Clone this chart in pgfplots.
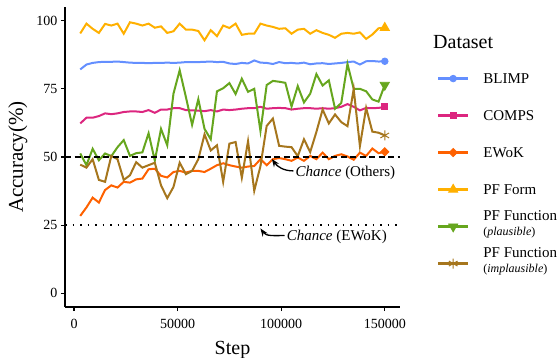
\documentclass[border=0pt]{standalone}
\usepackage{fontspec}
\setmainfont{Liberation Serif}
\usepackage{pgfplots}
\pgfplotsset{compat=1.18}
\usepackage{pgfplotstable}
\usetikzlibrary{arrows.meta}
\definecolor{cblimp}{HTML}{648FFF}
\definecolor{ccomps}{HTML}{DC267F}
\definecolor{cewok}{HTML}{FE6100}
\definecolor{cform}{HTML}{FFB000}
\definecolor{cplaus}{HTML}{66A61E}
\definecolor{cimpl}{HTML}{A6761D}
\newcommand{\lent}[1]{\raisebox{0pt}[11pt][4pt]{#1}}
\newcommand{\lentt}[2]{\raisebox{3.5pt}[11pt][4pt]{\begin{tabular}{@{}l@{}}#1\\[-3.5pt]{\fontsize{12}{14}\selectfont(\textit{#2})}\end{tabular}}}
\pgfplotstableread{
step blimp comps ewok form plaus implaus
3000 82.1 62.3 28.4 95.3 51.3 47.2
6000 83.9 64.4 31.5 98.9 47.0 46.1
9000 84.5 64.4 35.1 97.0 53.0 49.2
12000 84.8 65.0 33.3 95.5 48.8 41.6
15000 84.9 66.0 37.9 98.8 51.3 40.9
18000 84.9 65.7 39.6 98.2 50.3 50.4
21000 85.0 66.0 38.8 98.9 53.6 49.2
24000 84.8 66.5 40.9 95.2 56.2 41.6
27000 84.6 66.7 40.6 99.4 50.4 43.3
30000 84.5 66.7 41.8 98.9 51.4 48.1
33000 84.5 66.5 42.1 98.2 51.7 46.1
36000 84.4 67.2 45.5 98.9 58.7 47.0
39000 84.5 66.2 45.7 97.4 48.7 47.9
42000 84.5 67.4 43.1 97.9 60.3 39.6
45000 84.6 67.4 42.5 95.5 54.3 34.9
48000 84.5 67.9 44.5 96.1 73.2 39.0
51000 84.6 67.9 44.9 98.9 81.8 47.9
54000 84.8 67.2 44.3 96.7 72.0 43.7
57000 84.8 67.1 44.9 96.7 61.8 44.9
60000 84.8 67.0 44.9 96.2 71.2 49.2
63000 84.9 66.8 44.5 92.8 60.3 58.3
66000 85.0 67.2 45.7 96.5 56.5 52.4
69000 84.8 66.7 47.0 94.3 74.1 54.3
72000 84.9 67.4 47.7 98.2 75.2 40.9
75000 84.3 67.2 47.0 97.3 77.1 54.9
78000 84.1 67.4 46.5 98.9 73.1 55.5
81000 84.5 67.7 46.1 94.8 78.7 42.4
84000 84.3 67.9 46.5 95.2 73.9 55.8
87000 85.4 67.9 46.7 95.2 75.0 37.6
90000 84.6 68.4 49.2 98.9 59.5 46.7
93000 84.5 67.7 47.0 98.2 76.4 61.4
96000 84.1 67.9 49.2 97.7 77.9 64.1
99000 84.8 68.0 49.6 97.0 77.6 54.1
102000 84.4 67.9 49.2 97.2 77.2 53.8
105000 84.5 67.4 48.6 95.2 68.5 53.6
108000 84.3 67.7 49.8 96.7 76.0 50.3
111000 84.6 67.9 48.6 97.0 70.0 56.5
114000 84.0 67.9 50.4 95.2 73.2 51.8
117000 84.3 67.7 49.2 96.5 80.4 59.2
120000 84.4 67.9 51.6 95.5 76.2 67.4
123000 84.1 67.7 49.2 94.8 78.1 62.3
126000 84.3 67.9 50.4 93.7 67.7 65.6
129000 84.5 68.4 51.0 95.2 69.8 62.8
132000 84.8 69.4 50.2 95.5 84.1 61.3
135000 85.0 68.4 49.0 95.2 75.0 74.9
138000 83.9 67.1 51.6 95.7 75.0 54.0
141000 85.1 68.0 50.4 93.3 74.1 68.0
144000 85.2 67.9 53.1 94.9 71.1 59.3
147000 85.0 68.0 51.4 97.2 70.3 58.9
150000 85.1 68.4 51.9 97.4 76.4 57.9
}\data
\begin{document}
\begin{tikzpicture}
\useasboundingbox (0pt,0pt) rectangle (559pt,-358pt);
\begin{axis}[
  at={(65pt,-307pt)}, anchor=south west,
  scale only axis, width=335pt, height=300pt,
  xmin=-4350, xmax=157350, ymin=-5, ymax=105,
  axis lines=left, axis line style={-, line width=1.1pt},
  xtick={0,50000,100000,150000}, ytick={0,25,50,75,100},
  scaled x ticks=false, scaled y ticks=false,
  /pgf/number format/fixed,
  /pgf/number format/precision=0,
  /pgf/number format/1000 sep={},
  /pgf/number format/assume math mode=true,
  tick align=outside, major tick length=4pt,
  every tick/.style={black, line width=1.1pt},
  tick label style={font=\fontsize{14}{16}\selectfont},
  xticklabel style={yshift=-5pt},
  xlabel={Step}, ylabel={Accuracy(\%)},
  every axis x label/.style={at={(axis description cs:0.5,0)}, anchor=base, yshift=-47pt, font=\fontsize{20}{24}\selectfont},
  every axis y label/.style={at={(axis description cs:-0.1254,0.5)}, rotate=90, anchor=base, font=\fontsize{21}{25}\selectfont},
  clip mode=individual,
  legend style={draw=none, fill=none, inner sep=0pt, outer sep=0pt,
    at={(rel axis cs:1.1104,0.7823)}, anchor=north west,
    row sep=24.5pt, font=\fontsize{15}{18}\selectfont,
    nodes={inner sep=0pt},
    /tikz/every odd column/.append style={column sep=14pt}},
  legend cell align=left,
  legend image code/.code={%
    \draw[#1, line width=2.4pt, mark=none] (0pt,0pt) -- (30pt,0pt);
    \draw[#1] plot coordinates {(15pt,0pt)};},
]
\addplot[cblimp, line width=2pt, mark=*, mark size=3.3pt, mark indices={50}, mark options={solid, line width=0.8pt}, forget plot] table[x=step,y=blimp]{\data};
\addplot[ccomps, line width=2pt, mark=square*, mark size=3.0pt, mark indices={50}, mark options={solid, line width=0.8pt}, forget plot] table[x=step,y=comps]{\data};
\addplot[cewok, line width=2pt, mark=square*, mark size=2.9pt, mark indices={50}, mark options={solid, line width=0.8pt, rotate=45}, forget plot] table[x=step,y=ewok]{\data};
\addplot[cform, line width=2pt, mark=triangle*, mark size=5.3pt, mark indices={50}, mark options={solid, line width=0.8pt}, forget plot] table[x=step,y=form]{\data};
\addplot[cplaus, line width=2pt, mark=triangle*, mark size=5.3pt, mark indices={50}, mark options={solid, line width=0.8pt, rotate=180}, forget plot] table[x=step,y=plaus]{\data};
\addplot[cimpl, line width=2pt, mark=asterisk, mark size=5pt, mark indices={50}, mark options={solid, line width=1pt}, forget plot] table[x=step,y=implaus]{\data};
\addplot[black, line width=1.5pt, dash pattern=on 6pt off 3.5pt, forget plot] coordinates {(-4350,50) (157350,50)};
\addplot[black, line width=1.7pt, dash pattern=on 1.5pt off 6pt, forget plot] coordinates {(-4350,25) (157350,25)};
\addlegendimage{cblimp, mark=*, mark size=3.3pt, mark options={solid, line width=0.8pt}}
\addlegendentry{\lent{BLIMP}}
\addlegendimage{ccomps, mark=square*, mark size=3.0pt, mark options={solid, line width=0.8pt}}
\addlegendentry{\lent{COMPS}}
\addlegendimage{cewok, mark=square*, mark size=2.9pt, mark options={solid, line width=0.8pt, rotate=45}}
\addlegendentry{\lent{EWoK}}
\addlegendimage{cform, mark=triangle*, mark size=5.3pt, mark options={solid, line width=0.8pt}}
\addlegendentry{\lent{PF Form}}
\addlegendimage{cplaus, mark=triangle*, mark size=5.3pt, mark options={solid, line width=0.8pt, rotate=180}}
\addlegendentry{\lentt{PF Function}{plausible}}
\addlegendimage{cimpl, mark=asterisk, mark size=5pt, mark options={solid, line width=1pt}}
\addlegendentry{\lentt{PF Function}{implausible}}
\node[anchor=base west, inner sep=0pt, font=\fontsize{15}{18}\selectfont] at (axis cs:106900,43.0) {\textit{Chance} (Others)};
\draw[-{Stealth[length=8pt,width=6pt]}, line width=1.3pt] (axis cs:105900,44.9) to[out=180,in=-55] (axis cs:95500,49.3);
\node[anchor=base west, inner sep=0pt, font=\fontsize{15}{18}\selectfont] at (axis cs:102600,19.25) {\textit{Chance} (EWoK)};
\draw[-{Stealth[length=8pt,width=6pt]}, line width=1.3pt] (axis cs:101600,21.2) to[out=180,in=-55] (axis cs:90000,23.8);
\end{axis}
\node[anchor=base west, inner sep=0pt, font=\fontsize{20}{24}\selectfont] at (433pt,-48.3pt) {Dataset};
\end{tikzpicture}
\end{document}
